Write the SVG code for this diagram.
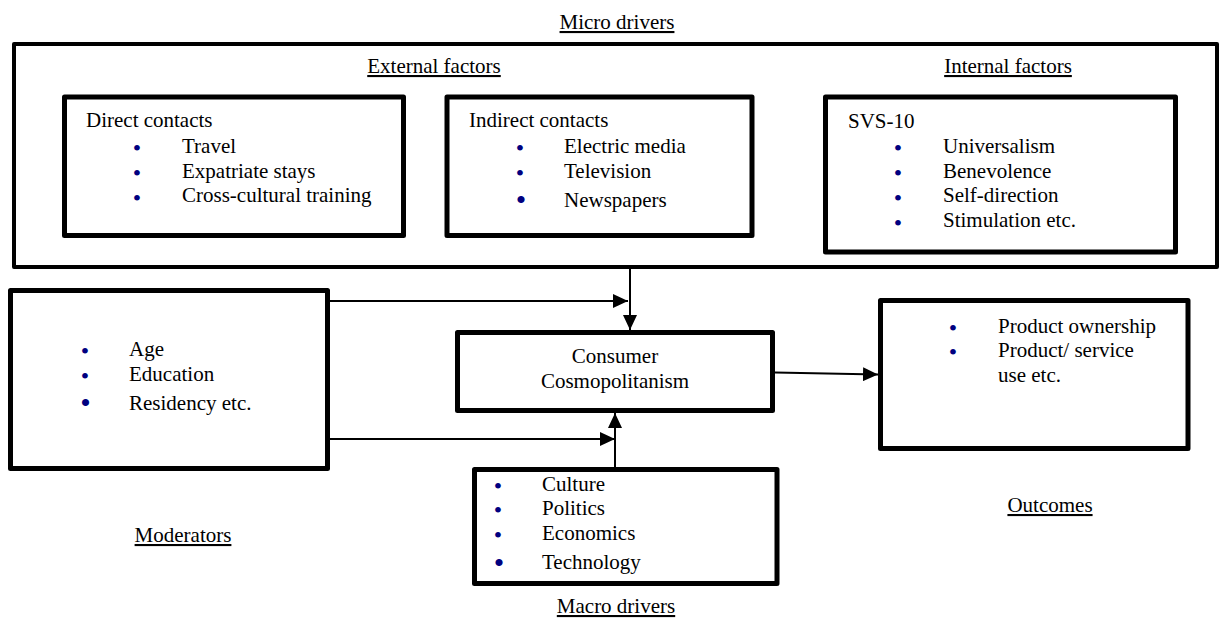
<svg xmlns="http://www.w3.org/2000/svg" width="1219" height="618" viewBox="0 0 1219 618">
  <style>
    .box { fill: none; stroke: #000; stroke-width: 5; stroke-linejoin: round; }
    .outer { fill: none; stroke: #000; stroke-width: 4; stroke-linejoin: round; }
    text { font-family: "Liberation Serif", "Times New Roman", serif; font-size: 21px; fill: #000; }
    .u { text-decoration: underline; }
    .mid { text-anchor: middle; }
    .b { font-size: 24px; fill: #000080; text-anchor: middle; }
    .bl { font-size: 30px; fill: #000080; text-anchor: middle; }
    .conn { fill: none; stroke: #000; stroke-width: 2; }
  </style>
  <defs>
    <marker id="head" viewBox="0 0 15 14" refX="15" refY="7" markerWidth="15" markerHeight="14" orient="auto" markerUnits="userSpaceOnUse">
      <path d="M0,0 L15,7 L0,14 Z" fill="#000"/>
    </marker>
  </defs>

  <!-- Section titles -->
  <text class="u mid" x="617" y="29">Micro drivers</text>
  <text class="u mid" x="434" y="73">External factors</text>
  <text class="u mid" x="1008" y="73">Internal factors</text>
  <text class="u mid" x="183" y="542">Moderators</text>
  <text class="u mid" x="1050" y="512">Outcomes</text>
  <text class="u mid" x="616" y="613">Macro drivers</text>

  <!-- Micro drivers container -->
  <g id="micro-drivers">
    <rect class="outer" x="14" y="44" width="1203" height="223"/>
  </g>

  <g id="direct-contacts">
    <rect class="box" x="64.5" y="97" width="339" height="138.5"/>
    <text x="86" y="127">Direct contacts</text>
    <text class="b" x="137" y="155.5">•</text><text x="182" y="153">Travel</text>
    <text class="b" x="137" y="180.5">•</text><text x="182" y="178">Expatriate stays</text>
    <text class="b" x="137" y="205.5">•</text><text x="182" y="202">Cross-cultural training</text>
  </g>

  <g id="indirect-contacts">
    <rect class="box" x="447" y="97" width="305" height="138.5"/>
    <text x="469" y="127">Indirect contacts</text>
    <text class="b" x="520" y="155.5">•</text><text x="564" y="153">Electric media</text>
    <text class="b" x="520" y="180.5">•</text><text x="564" y="178">Television</text>
    <text class="bl" x="521" y="210">•</text><text x="564" y="207">Newspapers</text>
  </g>

  <g id="internal-factors">
    <rect class="box" x="825.5" y="97" width="350" height="155"/>
    <text x="848" y="128">SVS-10</text>
    <text class="b" x="898" y="155.5">•</text><text x="943" y="153">Universalism</text>
    <text class="b" x="898" y="180.5">•</text><text x="943" y="178">Benevolence</text>
    <text class="b" x="898" y="205.5">•</text><text x="943" y="202">Self-direction</text>
    <text class="b" x="898" y="230.5">•</text><text x="943" y="227">Stimulation etc.</text>
  </g>

  <g id="moderators">
    <rect class="box" x="10.5" y="290.5" width="317" height="178"/>
    <text class="b" x="85" y="358.5">•</text><text x="129" y="356">Age</text>
    <text class="b" x="85" y="383.5">•</text><text x="129" y="381">Education</text>
    <text class="bl" x="85.5" y="413">•</text><text x="129" y="410">Residency etc.</text>
  </g>

  <g id="consumer-cosmopolitanism">
    <rect class="box" x="457.5" y="332.5" width="315" height="78"/>
    <text class="mid" x="615" y="363">Consumer</text>
    <text class="mid" x="615" y="388">Cosmopolitanism</text>
  </g>

  <g id="macro-drivers">
    <rect class="box" x="474.5" y="469.5" width="302.5" height="114"/>
    <text class="b" x="498" y="493.5">•</text><text x="542" y="491">Culture</text>
    <text class="b" x="498" y="517.5">•</text><text x="542" y="515">Politics</text>
    <text class="b" x="498" y="542.5">•</text><text x="542" y="540">Economics</text>
    <text class="bl" x="499" y="573">•</text><text x="542" y="569">Technology</text>
  </g>

  <g id="outcomes">
    <rect class="box" x="880.5" y="300.5" width="307.5" height="148"/>
    <text class="b" x="953" y="335.5">•</text><text x="998" y="333">Product ownership</text>
    <text class="b" x="953" y="359.5">•</text><text x="998" y="357">Product/ service</text>
    <text x="998" y="382">use etc.</text>
  </g>

  <g id="connectors">
    <line class="conn" x1="630" y1="269" x2="630" y2="330" marker-end="url(#head)"/>
    <line class="conn" x1="330" y1="301" x2="628" y2="301" marker-end="url(#head)"/>
    <line class="conn" x1="330" y1="439" x2="615" y2="439" marker-end="url(#head)"/>
    <line class="conn" x1="615" y1="467" x2="615" y2="413" marker-end="url(#head)"/>
    <line class="conn" x1="775" y1="372.5" x2="878" y2="374.5" marker-end="url(#head)"/>
  </g>
</svg>
